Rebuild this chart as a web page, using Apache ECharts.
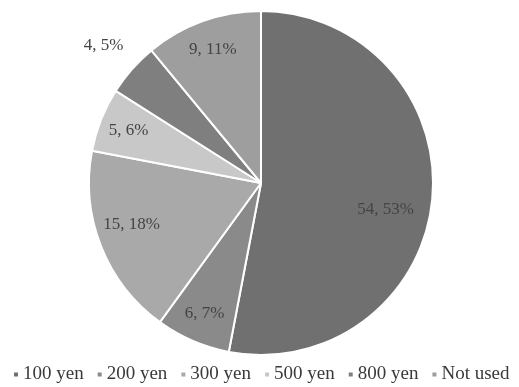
<!DOCTYPE html>
<html>
<head>
<meta charset="utf-8">
<script src="https://cdn.jsdelivr.net/npm/echarts@6/dist/echarts.min.js"></script>
<style>
  html, body { margin: 0; padding: 0; background: #fff; }
  #chart { width: 519px; height: 387px; }
</style>
</head>
<body>
<div id="chart"></div>
<script>
// Fare paid per trip: respondent counts and share of respondents
const categories = ['100 yen', '200 yen', '300 yen', '500 yen', '800 yen', 'Not used'];
const counts = [54, 6, 15, 5, 4, 9];
const percents = [53, 7, 18, 6, 5, 11];
const colors = ['#707070', '#8a8a8a', '#a9a9a9', '#c8c8c8', '#7f7f7f', '#9e9e9e'];

const FONT = '"Liberation Serif", "DejaVu Serif", serif';
const R = 172;
const CENTER = [261, 183];

// The 800 yen share sits outside its slice; all other labels go in the overlay ring
const OUTSIDE = new Set(['800 yen']);

// Small nudges so labels sit clear of the slice borders
const labelNudge = {
  '100 yen': [-17, 13],
  '300 yen': [3, -11],
  '800 yen': [10, -12]
};

const pieData = categories.map((name, i) => ({
  name,
  value: percents[i],
  itemStyle: { color: colors[i] },
  label: OUTSIDE.has(name)
    ? { show: true, position: 'outside', offset: labelNudge[name] || [0, 0] }
    : { show: false }
}));

// Transparent overlay pie with the same angles; its inside labels land at ~0.8 of the visible radius
const overlayData = categories.map((name, i) => ({
  name,
  value: percents[i],
  itemStyle: { color: 'rgba(0,0,0,0)' },
  label: OUTSIDE.has(name)
    ? { show: false }
    : { show: true, offset: labelNudge[name] || [0, 0] }
}));

const labelFormatter = p => counts[p.dataIndex] + ', ' + percents[p.dataIndex] + '%';

const chart = echarts.init(document.getElementById('chart'), null, { renderer: 'canvas' });
chart.setOption({
  animation: false,
  backgroundColor: '#ffffff',
  legend: {
    data: categories,
    bottom: 3,
    left: 12,
    width: 505,
    padding: 0,
    icon: 'rect',
    itemWidth: 6,
    itemHeight: 6,
    itemGap: 12,
    textStyle: { fontFamily: FONT, fontSize: 19, color: '#3a3a3a', padding: [0, 0, 0, -1] }
  },
  series: [
    {
      type: 'pie',
      center: CENTER,
      radius: [0, R],
      startAngle: 90,
      clockwise: true,
      silent: true,
      itemStyle: { borderColor: '#ffffff', borderWidth: 2 },
      label: {
        formatter: labelFormatter,
        fontFamily: FONT,
        fontSize: 17,
        color: '#444444'
      },
      labelLine: { show: false, length: 18, length2: 0 },
      data: pieData
    },
    {
      type: 'pie',
      center: CENTER,
      radius: [0, R * 1.62],
      startAngle: 90,
      clockwise: true,
      silent: true,
      legendHoverLink: false,
      label: {
        position: 'inside',
        formatter: labelFormatter,
        fontFamily: FONT,
        fontSize: 17,
        color: '#444444'
      },
      labelLine: { show: false },
      data: overlayData
    }
  ]
});
</script>
</body>
</html>
